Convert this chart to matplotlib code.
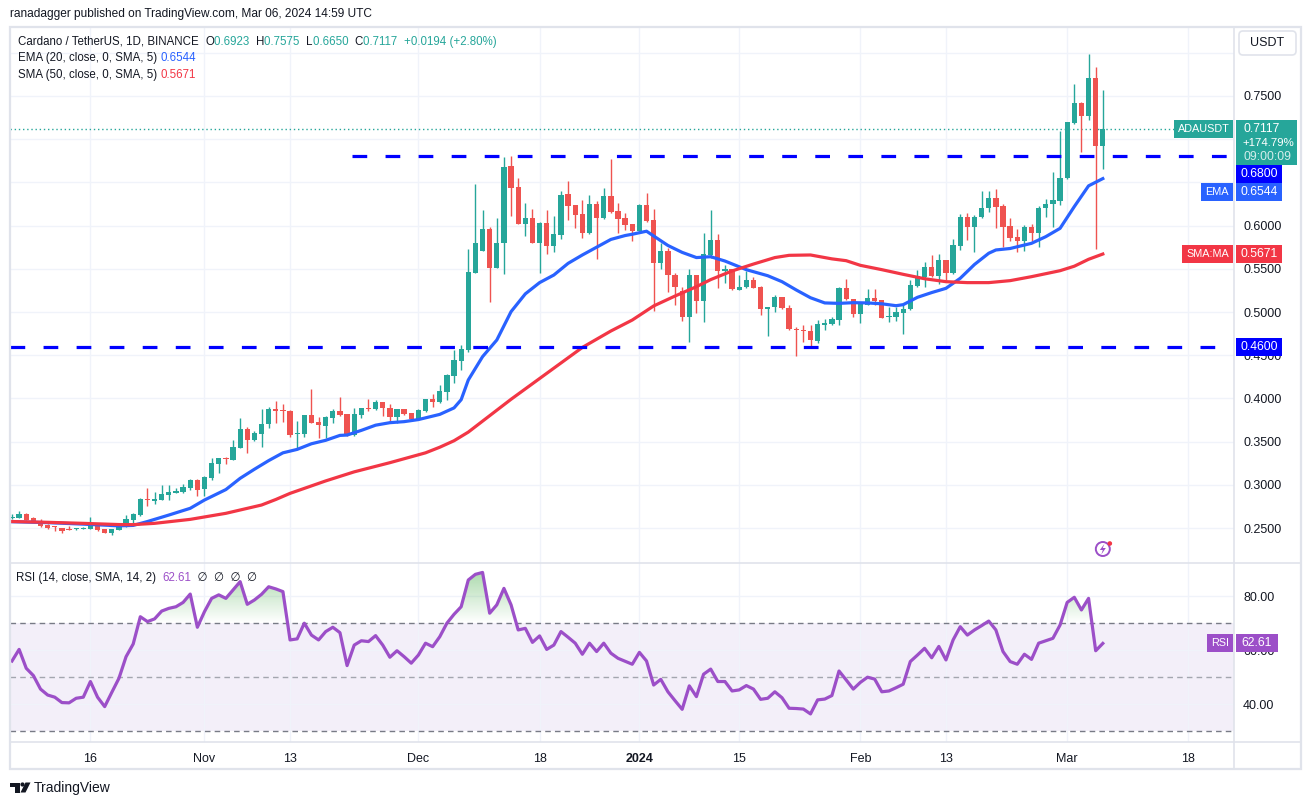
import numpy as np
import matplotlib
matplotlib.use("Agg")
import matplotlib.pyplot as plt
from matplotlib.patches import Rectangle, FancyBboxPatch, Polygon, Circle, PathPatch
from matplotlib.path import Path

plt.rcParams['font.family'] = ['Liberation Sans', 'DejaVu Sans']
plt.rcParams['lines.scale_dashes'] = False

W, H = 1312, 805

GREEN = '#26a69a'
RED = '#ef5350'
EMA_COL = '#2962ff'
SMA_COL = '#f23645'
LEVEL_COL = '#0000ff'
PURPLE = '#9c4fc8'
TXT = '#131722'
FRAME = '#e0e3eb'
GRID = '#f0f3fa'

# ADA/USDT daily candles, index 0 = 2023-10-05 ... 153 = 2024-03-06
opens = [
    0.2612, 0.2620, 0.2662, 0.2616, 0.2581, 0.2539, 0.2515, 0.2500, 0.2488, 0.2485,
    0.2492, 0.2492, 0.2531, 0.2488, 0.2446, 0.2477, 0.2523, 0.2593, 0.2650, 0.2832,
    0.2812, 0.2828, 0.2886, 0.2909, 0.2917, 0.2967, 0.3059, 0.2948, 0.3083, 0.3245,
    0.3314, 0.3287, 0.3430, 0.3646, 0.3519, 0.3588, 0.3700, 0.3873, 0.3866, 0.3854,
    0.3588, 0.3588, 0.3804, 0.3723, 0.3681, 0.3777, 0.3854, 0.3819, 0.3576, 0.3812,
    0.3885, 0.3873, 0.3962, 0.3885, 0.3789, 0.3873, 0.3827, 0.3758, 0.3858, 0.3993,
    0.3962, 0.4078, 0.4259, 0.4437, 0.4560, 0.5455, 0.5710, 0.5961, 0.5513, 0.5795,
    0.6690, 0.6443, 0.6015, 0.6084, 0.5802, 0.6026, 0.5768, 0.5891, 0.6366, 0.6238,
    0.6134, 0.5918, 0.6250, 0.6092, 0.6343, 0.6169, 0.6084, 0.6019, 0.5941, 0.6235,
    0.6065, 0.5571, 0.5706, 0.5428, 0.5243, 0.4946, 0.5428, 0.5131, 0.5660, 0.5833,
    0.5478, 0.5498, 0.5255, 0.5285, 0.5370, 0.5293, 0.5031, 0.5054, 0.5177, 0.5050,
    0.4799, 0.4792, 0.4780, 0.4664, 0.4853, 0.4861, 0.4907, 0.5282, 0.5147, 0.4977,
    0.5081, 0.5158, 0.5139, 0.4946, 0.4946, 0.4992, 0.5031, 0.5301, 0.5409, 0.5517,
    0.5417, 0.5602, 0.5455, 0.5764, 0.6103, 0.5988, 0.6096, 0.6200, 0.6316, 0.6227,
    0.5995, 0.5864, 0.5826, 0.5980, 0.5918, 0.6200, 0.6246, 0.6289, 0.6547, 0.7191,
    0.7423, 0.7272, 0.7704, 0.6923,
]
highs = [
    0.2658, 0.2697, 0.2670, 0.2623, 0.2600, 0.2546, 0.2523, 0.2500, 0.2523, 0.2500,
    0.2515, 0.2631, 0.2546, 0.2492, 0.2492, 0.2554, 0.2650, 0.2670, 0.2843, 0.2967,
    0.2920, 0.2994, 0.2998, 0.2959, 0.3009, 0.3063, 0.3071, 0.3106, 0.3306, 0.3310,
    0.3326, 0.3519, 0.3777, 0.3665, 0.3623, 0.3873, 0.3904, 0.3970, 0.3931, 0.3866,
    0.3738, 0.3804, 0.4109, 0.3781, 0.3796, 0.3873, 0.4012, 0.3819, 0.3889, 0.3889,
    0.3989, 0.3981, 0.3962, 0.3931, 0.3877, 0.3873, 0.3827, 0.3873, 0.3989, 0.4051,
    0.4155, 0.4280, 0.4560, 0.4618, 0.5729, 0.6481, 0.6181, 0.5980, 0.6084, 0.6790,
    0.6806, 0.6547, 0.6265, 0.6188, 0.6045, 0.6181, 0.6111, 0.6400, 0.6520, 0.6238,
    0.6296, 0.6354, 0.6289, 0.6431, 0.6767, 0.6258, 0.6142, 0.6019, 0.6250, 0.6373,
    0.6192, 0.5795, 0.5737, 0.5448, 0.5293, 0.5498, 0.5428, 0.5910, 0.6181, 0.5903,
    0.5544, 0.5498, 0.5428, 0.5475, 0.5401, 0.5301, 0.5062, 0.5197, 0.5177, 0.5081,
    0.4823, 0.4850, 0.4850, 0.4907, 0.4915, 0.4946, 0.5293, 0.5378, 0.5147, 0.5089,
    0.5262, 0.5262, 0.5139, 0.5062, 0.5062, 0.5081, 0.5370, 0.5486, 0.5583, 0.5660,
    0.5671, 0.5602, 0.5845, 0.6134, 0.6150, 0.6123, 0.6400, 0.6400, 0.6420, 0.6250,
    0.6084, 0.5957, 0.6007, 0.6019, 0.6231, 0.6304, 0.6624, 0.7099, 0.7203, 0.7639,
    0.7434, 0.7986, 0.7832, 0.7575,
]
lows = [
    0.2600, 0.2612, 0.2589, 0.2566, 0.2515, 0.2488, 0.2469, 0.2446, 0.2481, 0.2481,
    0.2485, 0.2485, 0.2469, 0.2438, 0.2423, 0.2473, 0.2515, 0.2562, 0.2639, 0.2755,
    0.2778, 0.2824, 0.2828, 0.2901, 0.2909, 0.2940, 0.2874, 0.2866, 0.3056, 0.3140,
    0.3237, 0.3287, 0.3422, 0.3364, 0.3507, 0.3441, 0.3654, 0.3719, 0.3731, 0.3557,
    0.3422, 0.3557, 0.3715, 0.3546, 0.3538, 0.3711, 0.3796, 0.3565, 0.3565, 0.3777,
    0.3858, 0.3866, 0.3796, 0.3731, 0.3719, 0.3812, 0.3738, 0.3750, 0.3846, 0.3904,
    0.3950, 0.3981, 0.4182, 0.4329, 0.4541, 0.5455, 0.5710, 0.5120, 0.5513, 0.5436,
    0.6111, 0.6015, 0.5880, 0.5795, 0.5455, 0.5671, 0.5698, 0.5841, 0.6065, 0.5968,
    0.5860, 0.5899, 0.5617, 0.6080, 0.6150, 0.5918, 0.5949, 0.5822, 0.5918, 0.6038,
    0.5015, 0.5498, 0.5235, 0.5085, 0.4896, 0.4657, 0.4985, 0.4888, 0.5621, 0.5282,
    0.5340, 0.5255, 0.5250, 0.5274, 0.5274, 0.4965, 0.4726, 0.5004, 0.5035, 0.4792,
    0.4495, 0.4657, 0.4599, 0.4637, 0.4792, 0.4850, 0.4850, 0.5139, 0.4946, 0.4877,
    0.5081, 0.5081, 0.4930, 0.4888, 0.4900, 0.4745, 0.5020, 0.5293, 0.5293, 0.5401,
    0.5324, 0.5370, 0.5440, 0.5718, 0.5833, 0.5698, 0.6090, 0.6161, 0.5976, 0.5756,
    0.5826, 0.5698, 0.5710, 0.5826, 0.5748, 0.6096, 0.5980, 0.6238, 0.6540, 0.7180,
    0.6856, 0.7222, 0.5725, 0.6650,
]
closes = [
    0.2631, 0.2658, 0.2593, 0.2573, 0.2523, 0.2500, 0.2508, 0.2469, 0.2481, 0.2492,
    0.2504, 0.2531, 0.2481, 0.2446, 0.2488, 0.2535, 0.2604, 0.2662, 0.2832, 0.2824,
    0.2832, 0.2894, 0.2920, 0.2928, 0.2978, 0.3056, 0.2940, 0.3094, 0.3248, 0.3310,
    0.3299, 0.3441, 0.3646, 0.3519, 0.3603, 0.3700, 0.3877, 0.3858, 0.3858, 0.3576,
    0.3596, 0.3804, 0.3719, 0.3688, 0.3781, 0.3858, 0.3808, 0.3576, 0.3819, 0.3885,
    0.3873, 0.3958, 0.3885, 0.3789, 0.3877, 0.3823, 0.3758, 0.3866, 0.3989, 0.3962,
    0.4086, 0.4271, 0.4444, 0.4568, 0.5459, 0.5795, 0.5961, 0.5513, 0.5795, 0.6674,
    0.6439, 0.6015, 0.6084, 0.5802, 0.6026, 0.5768, 0.5899, 0.6354, 0.6231, 0.6123,
    0.5918, 0.6250, 0.6092, 0.6343, 0.6161, 0.6076, 0.6007, 0.5941, 0.6235, 0.6053,
    0.5571, 0.5706, 0.5428, 0.5293, 0.4946, 0.5428, 0.5131, 0.5671, 0.5833, 0.5478,
    0.5498, 0.5262, 0.5285, 0.5370, 0.5282, 0.5031, 0.5062, 0.5177, 0.5042, 0.4799,
    0.4788, 0.4780, 0.4676, 0.4857, 0.4873, 0.4915, 0.5282, 0.5147, 0.4977, 0.5089,
    0.5158, 0.5127, 0.4934, 0.4958, 0.4996, 0.5035, 0.5313, 0.5417, 0.5517, 0.5417,
    0.5602, 0.5455, 0.5775, 0.6103, 0.5988, 0.6103, 0.6200, 0.6316, 0.6219, 0.5988,
    0.5860, 0.5826, 0.5980, 0.5918, 0.6200, 0.6250, 0.6296, 0.6547, 0.7195, 0.7415,
    0.7272, 0.7704, 0.6923, 0.7117,
]

# EMA 20 and SMA 50 at these candle indices
ema_idx = [0, 5, 10, 15, 17, 19, 22, 25, 27, 30, 32, 34, 36, 38, 40, 42, 44, 46, 47, 49,
           51, 53, 55, 57, 60, 62, 63, 64, 66, 68, 70, 72, 74, 76, 78, 80, 82, 84, 86, 87,
           89, 90, 92, 94, 96, 98, 100, 103, 106, 108, 110, 112, 114, 116, 118, 120, 122,
           124, 125, 127, 129, 131, 133, 135, 137, 138, 140, 143, 145, 147, 149, 151, 153]
ema_val = [0.2573, 0.2562, 0.2545, 0.2525, 0.2530, 0.2575, 0.2650, 0.2728, 0.2824, 0.2945,
           0.3075, 0.3180, 0.3280, 0.3370, 0.3410, 0.3475, 0.3515, 0.3572, 0.3576, 0.3630,
           0.3690, 0.3719, 0.3731, 0.3755, 0.3815, 0.3890, 0.3985, 0.4213, 0.4483, 0.4676,
           0.5004, 0.5210, 0.5340, 0.5428, 0.5563, 0.5660, 0.5750, 0.5840, 0.5885, 0.5900,
           0.5935, 0.5880, 0.5770, 0.5690, 0.5630, 0.5640, 0.5590, 0.5490, 0.5420, 0.5351,
           0.5255, 0.5165, 0.5105, 0.5100, 0.5108, 0.5105, 0.5095, 0.5073, 0.5085, 0.5170,
           0.5225, 0.5274, 0.5390, 0.5550, 0.5680, 0.5718, 0.5735, 0.5795, 0.5872, 0.5968,
           0.6220, 0.6460, 0.6544]
sma_idx = [0, 5, 10, 15, 17, 20, 25, 30, 35, 37, 39, 44, 48, 53, 58, 60, 62, 64, 67, 70,
           74, 77, 80, 84, 87, 90, 93, 96, 98, 101, 104, 107, 109, 112, 115, 117, 119, 122,
           125, 128, 131, 134, 137, 140, 143, 147, 149, 151, 153]
sma_val = [0.2575, 0.2566, 0.2554, 0.2540, 0.2539, 0.2554, 0.2600, 0.2670, 0.2766, 0.2830,
           0.2901, 0.3045, 0.3150, 0.3256, 0.3370, 0.3435, 0.3510, 0.3610, 0.3800, 0.3990,
           0.4230, 0.4410, 0.4590, 0.4780, 0.4907, 0.5070, 0.5185, 0.5293, 0.5375, 0.5475,
           0.5555, 0.5630, 0.5656, 0.5660, 0.5615, 0.5594, 0.5540, 0.5490, 0.5436, 0.5385,
           0.5351, 0.5340, 0.5340, 0.5363, 0.5409, 0.5478, 0.5530, 0.5610, 0.5671]

rsi = [
    56.1, 60.4, 53.4, 50.7, 45.7, 43.5, 42.7, 40.7, 40.6, 42.3,
    42.7, 48.5, 42.7, 39.2, 44.5, 49.7, 57.7, 62.4, 72.5, 70.7,
    71.7, 74.6, 75.6, 76.2, 77.8, 80.9, 68.6, 74.4, 79.3, 80.6,
    79.3, 82.4, 85.5, 77.1, 78.7, 80.8, 83.6, 82.8, 81.8, 63.9,
    64.3, 70.1, 65.7, 63.9, 67.0, 68.6, 66.6, 54.4, 62.0, 63.6,
    63.3, 65.5, 62.0, 57.5, 59.9, 57.7, 55.3, 58.3, 62.7, 61.4,
    65.1, 70.1, 73.4, 76.2, 86.1, 88.2, 88.9, 73.8, 76.9, 83.0,
    76.9, 67.6, 68.2, 63.0, 65.4, 60.4, 62.0, 67.0, 64.9, 62.7,
    58.6, 62.7, 59.6, 62.7, 59.0, 57.1, 56.0, 54.9, 59.3, 56.1,
    47.2, 49.3, 44.7, 41.4, 38.2, 46.9, 42.9, 51.2, 53.1, 48.5,
    48.5, 45.0, 45.4, 47.0, 45.7, 41.9, 42.3, 44.7, 42.5, 38.6,
    38.5, 38.3, 36.5, 41.7, 42.0, 43.3, 52.4, 49.1, 45.7, 48.2,
    50.1, 49.4, 44.7, 45.0, 46.2, 47.5, 55.9, 58.3, 60.8, 57.3,
    61.5, 56.5, 63.9, 68.8, 65.7, 67.6, 69.2, 70.9, 67.6, 59.6,
    55.9, 54.9, 58.6, 56.7, 62.7, 63.6, 64.5, 69.4, 77.8, 79.7,
    75.0, 79.3, 59.9, 62.61,
]

levels = [(0.68, 47.7), (0.46, -0.3)]   # horizontal lines drawn by the author: price, start index

tick_idx = [11, 27, 39, 57, 74, 88, 102, 119, 131, 148, 165]
tick_lbl = ['16', 'Nov', '13', 'Dec', '18', '2024', '15', 'Feb', '13', 'Mar', '18']

price_ticks = [0.25, 0.30, 0.35, 0.40, 0.45, 0.50, 0.55, 0.60, 0.65, 0.70, 0.75, 0.80]
hidden_ticks = [0.65, 0.70, 0.80]

o = np.array(opens)
hi = np.array(highs)
lo = np.array(lows)
c = np.array(closes)
r = np.array(rsi)
idx = np.arange(len(c))

fig = plt.figure(figsize=(W / 100, H / 100), dpi=100)
fig.patch.set_facecolor('white')


def fbox(x0, y0, x1, y1):
    return [x0 / W, 1 - y1 / H, (x1 - x0) / W, (y1 - y0) / H]


ax = fig.add_axes(fbox(10, 28, 1234, 563))
axr = fig.add_axes(fbox(10, 563, 1234, 742), sharex=ax)
ov = fig.add_axes([0, 0, 1, 1])
ov.set_xlim(0, W)
ov.set_ylim(H, 0)
ov.axis('off')
ov.patch.set_alpha(0)
ov.set_zorder(10)

ax.set_xlim(-0.28, 171.4)
ax.set_ylim(0.2095, 0.8287)
axr.set_ylim(26.1, 92.4)

for a in (ax, axr):
    for s in a.spines.values():
        s.set_visible(False)
    a.set_facecolor('white')

# main panel grid
ax.set_yticks(price_ticks)
ax.set_yticklabels(['' if v in hidden_ticks else f'{v:.4f}' for v in price_ticks])
ax.yaxis.tick_right()
ax.tick_params(axis='y', length=0, pad=6.5, labelsize=9, labelcolor=TXT)
ax.set_xticks(tick_idx)
ax.tick_params(axis='x', length=0, labelbottom=False)
ax.grid(True, color=GRID, lw=1, zorder=0)
ax.set_axisbelow(True)

# candles
col = np.where(c >= o, GREEN, RED)
ax.vlines(idx, lo, hi, colors=col, lw=1, zorder=3)
body = np.maximum(np.abs(c - o), 0.0013)
ax.bar(idx, body, bottom=np.minimum(o, c), width=0.74, color=col, lw=0, zorder=3)

ax.plot(ema_idx, ema_val, color=EMA_COL, lw=2.3, zorder=4, solid_joinstyle='round')
ax.plot(sma_idx, sma_val, color=SMA_COL, lw=2.3, zorder=4, solid_joinstyle='round')

for lvl, start in levels:
    ax.hlines(lvl, start, 170.5, color=LEVEL_COL, lw=2.3, linestyles=[(0, (10.6, 13.2))], zorder=5)

ax.axhline(c[-1], color=GREEN, lw=1, ls=(0, (1, 2)), zorder=2)

# RSI panel
axr.axhspan(30, 70, color='#7e57c2', alpha=0.09, lw=0, zorder=0)
axr.set_yticks([40, 60, 80])
axr.set_yticklabels(['40.00', '60.00', '80.00'])
axr.yaxis.tick_right()
axr.tick_params(axis='y', length=0, pad=6.5, labelsize=9, labelcolor=TXT)
axr.set_xticks(tick_idx)
axr.set_xticklabels(tick_lbl)
axr.tick_params(axis='x', length=0, pad=8, labelsize=9, labelcolor=TXT)
for t in axr.get_xticklabels():
    if t.get_text() == '2024':
        t.set_fontweight('bold')
axr.grid(True, color=GRID, lw=1, zorder=0)
axr.set_axisbelow(True)
axr.axhline(70, color='#787b86', lw=1, ls=(0, (4, 3)), zorder=1)
axr.axhline(30, color='#787b86', lw=1, ls=(0, (4, 3)), zorder=1)
axr.axhline(50, color='#a3a6af', lw=1, ls=(0, (4, 3)), zorder=1)

# overbought gradient
fill = axr.fill_between(idx, 70, r, where=r >= 70, interpolate=True, color='none', lw=0)
paths = fill.get_paths()
if paths:
    clip = PathPatch(Path.make_compound_path(*paths), transform=axr.transData, fc='none', ec='none')
    axr.add_patch(clip)
    grad = np.zeros((100, 2, 4))
    grad[..., 0] = 0.30
    grad[..., 1] = 0.69
    grad[..., 2] = 0.31
    grad[..., 3] = np.linspace(0.0, 0.55, 100)[:, None]
    im = axr.imshow(grad, extent=[-0.28, 171.4, 70, 92.4], origin='lower', aspect='auto', zorder=2)
    im.set_clip_path(clip)
axr.set_xlim(-0.28, 171.4)
axr.set_ylim(26.1, 92.4)
axr.plot(idx, r, color=PURPLE, lw=2.3, zorder=4, solid_joinstyle='round')


# ---- overlay: frame, legends, price tags ----
def py(v, a=ax):
    return H - a.transData.transform((0, v))[1]


ov.add_patch(Rectangle((10, 27.5), 1291, 741.5, fc='none', ec=FRAME, lw=1.6, zorder=1))
ov.plot([1234, 1234], [27.5, 769], color=FRAME, lw=1.2, zorder=1)
ov.plot([10, 1301], [563, 563], color=FRAME, lw=1.2, zorder=1)
ov.plot([10, 1301], [742, 742], color=FRAME, lw=1.2, zorder=1)

ov.text(10, 14, 'ranadagger published on TradingView.com, Mar 06, 2024 14:59 UTC',
        fontsize=8.6, color=TXT, va='center', ha='left')


def run(parts, x, y, size=8.3):
    t = ov.text(x, y, parts[0][0], color=parts[0][1], fontsize=size, va='center', ha='left')
    for s, cl in parts[1:]:
        t = ov.annotate(s, xy=(1, 0.5), xycoords=t, va='center', ha='left', color=cl, fontsize=size)
    return t


run([('Cardano / TetherUS, 1D, BINANCE  ', TXT), ('O', TXT), (f'{o[-1]:.4f}  ', GREEN),
     ('H', TXT), (f'{hi[-1]:.4f}  ', GREEN), ('L', TXT), (f'{lo[-1]:.4f}  ', GREEN),
     ('C', TXT), (f'{c[-1]:.4f}  ', GREEN), ('+0.0194 (+2.80%)', GREEN)], 18, 42)
run([('EMA (20, close, 0, SMA, 5) ', TXT), (f'{ema_val[-1]:.4f}', EMA_COL)], 18, 58)
run([('SMA (50, close, 0, SMA, 5) ', TXT), (f'{sma_val[-1]:.4f}', SMA_COL)], 18, 75)
run([('RSI (14, close, SMA, 14, 2)  ', TXT), (f'{r[-1]:.2f}', PURPLE),
     ('  \u2205  \u2205  \u2205  \u2205', TXT)], 16, 578)

# USDT currency button
ov.add_patch(FancyBboxPatch((1239, 31), 57, 24, boxstyle='round,pad=0,rounding_size=4',
                            fc='white', ec=FRAME, lw=1.2, zorder=3))
ov.text(1267.5, 43.5, 'USDT', fontsize=9, color=TXT, ha='center', va='center', zorder=4)


def box(x0, x1, y0, y1, fc):
    ov.add_patch(Rectangle((x0, y0), x1 - x0, y1 - y0, fc=fc, ec='none', zorder=5))


def label(x, y, s, cl='white', size=8.7, ha='center', alpha=1.0):
    ov.text(x, y, s, color=cl, fontsize=size, ha=ha, va='center', zorder=6, alpha=alpha)


# stacked price tags on the right scale
y_last = py(c[-1])
box(1174, 1233, y_last - 9, y_last + 9, GREEN)
label(1203.5, y_last, 'ADAUSDT', size=7.8)
box(1236, 1297, y_last - 9, y_last + 36, GREEN)
label(1243, y_last, f'{c[-1]:.4f}', ha='left')
label(1242, y_last + 14, '+174.79%', ha='left', size=8.2)
label(1243, y_last + 28, '09:00:09', ha='left', alpha=0.8)
bottom = y_last + 36

tags = [(0.68, LEVEL_COL, None, None), (ema_val[-1], EMA_COL, 'EMA', 1201),
        (sma_val[-1], SMA_COL, 'SMA:MA', 1182), (0.46, LEVEL_COL, None, None)]
for val, fc, name, x0 in tags:
    yc = max(py(val), bottom + 9)
    box(1236, 1282, yc - 9, yc + 9, fc)
    label(1259, yc, f'{val:.4f}')
    if name:
        box(x0, 1233, yc - 9, yc + 9, fc)
        label((x0 + 1233) / 2, yc, name, size=7.8)
    bottom = yc + 9

yr = py(r[-1], axr)
box(1207, 1233, yr - 9, yr + 9, PURPLE)
label(1220, yr, 'RSI', size=7.8)
box(1236, 1278, yr - 9, yr + 9, PURPLE)
label(1257, yr, f'{r[-1]:.2f}')

# small alert icon under the last candle
xi = ax.transData.transform((idx[-1], 0))[0]
ov.add_patch(Circle((xi, 549), 7, fc='white', ec=PURPLE, lw=1.4, zorder=4))
ov.add_patch(Polygon([(xi + 1.5, 544), (xi - 3, 550), (xi, 550), (xi - 1.5, 554.5),
                      (xi + 3, 548), (xi, 548)], closed=True, fc=PURPLE, ec='none', zorder=5))
ov.add_patch(Circle((xi + 7, 543.5), 2.3, fc='#f23645', ec='none', zorder=6))

# TradingView logo
ov.add_patch(Polygon([(10, 782.5), (19.5, 782.5), (19.5, 792.5), (15, 792.5), (15, 786.5), (10, 786.5)],
                     closed=True, fc=TXT, ec='none'))
ov.add_patch(Circle((22.5, 784.5), 2.1, fc=TXT, ec='none'))
ov.add_patch(Polygon([(25.5, 782.5), (30.5, 782.5), (25.5, 792.5), (20.5, 792.5)],
                     closed=True, fc=TXT, ec='none'))
ov.text(34, 787.5, 'TradingView', fontsize=10, color=TXT, va='center', ha='left')

fig.savefig('out.png', dpi=100, facecolor='white')
